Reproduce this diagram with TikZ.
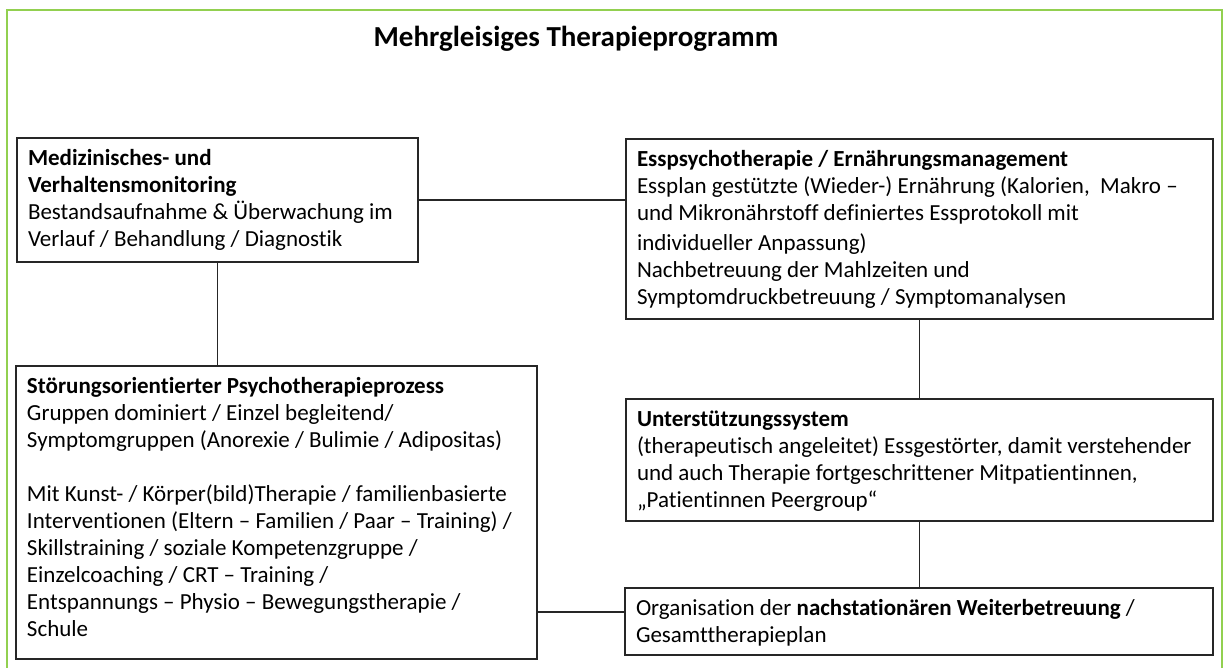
\documentclass[tikz,border=0pt]{standalone}
\usepackage{fontspec}
\setmainfont{Carlito}[Ligatures=NoCommon]
\usetikzlibrary{calc}
\definecolor{framegreen}{RGB}{146,208,80}
\definecolor{boxline}{RGB}{38,38,38}
\tikzset{
  box/.style={draw=boxline, line width=1.5pt, anchor=north west, inner xsep=11pt, inner ysep=9pt, outer sep=0pt, align=left},
  link/.style={draw=boxline, line width=1.3pt},
  frame/.style={draw=framegreen, line width=1.5pt},
}
\newcommand{\boxtext}[3]{\parbox[c][#2][t]{#1}{\fontsize{23}{27}\selectfont\strut #3}}
\begin{document}
\begin{tikzpicture}[x=1pt,y=-1pt]
\useasboundingbox (0,0) rectangle (1228,668);
\clip (0,0) rectangle (1228,668);
\fill[white] (0,0) rectangle (1228,668);
\draw[frame] (7,10) rectangle (1222,720);
\node[font=\bfseries\fontsize{29}{34}\selectfont, inner sep=0pt] (title) at (576,39) {Mehrgleisiges Therapieprogramm};

\node[box] (med) at (17,138) {\boxtext{379pt}{106pt}{\textbf{Medizinisches- und}\\
\textbf{Verhaltensmonitoring}\\
Bestandsaufnahme \& Überwachung im\\
Verlauf / Behandlung / Diagnostik}};

\node[box] (ess) at (626,139) {\boxtext{565pt}{162pt}{\textbf{Esspsychotherapie / Ernährungsmanagement}\\
Essplan gestützte (Wieder-) Ernährung (Kalorien,\ \ Makro –\\
und Mikronährstoff definiertes Essprotokoll mit\\[3pt]
individueller Anpassung)\\
Nachbetreuung der Mahlzeiten und\\
Symptomdruckbetreuung / Symptomanalysen}};

\node[box] (stoer) at (16,366) {\boxtext{499pt}{275pt}{\textbf{Störungsorientierter Psychotherapieprozess}\\
Gruppen dominiert / Einzel begleitend/\\
Symptomgruppen (Anorexie / Bulimie / Adipositas)\\[27pt]
Mit Kunst- / Körper(bild)Therapie / familienbasierte\\
Interventionen (Eltern – Familien / Paar – Training) /\\
Skillstraining / soziale Kompetenzgruppe /\\
Einzelcoaching / CRT – Training /\\
Entspannungs – Physio – Bewegungstherapie /\\
Schule}};

\node[box] (unter) at (626,399) {\boxtext{565pt}{104pt}{\textbf{Unterstützungssystem}\\
(therapeutisch angeleitet) Essgestörter, damit verstehender\\
und auch Therapie fortgeschrittener Mitpatientinnen,\\
„Patientinnen Peergroup“}};

\node[box] (org) at (625,588) {\boxtext{566pt}{49pt}{Organisation der \textbf{nachstationären Weiterbetreuung} /\\
Gesamttherapieplan}};

\coordinate (yline) at (0,612);
\draw[link] (med.east) -- (med.east -| ess.west);
\draw[link] (med.south) -- (med.south |- stoer.north);
\draw[link] (ess.south) -- (ess.south |- unter.north);
\draw[link] (unter.south) -- (unter.south |- org.north);
\draw[link] (stoer.east |- yline) -- (org.west |- yline);
\end{tikzpicture}
\end{document}
